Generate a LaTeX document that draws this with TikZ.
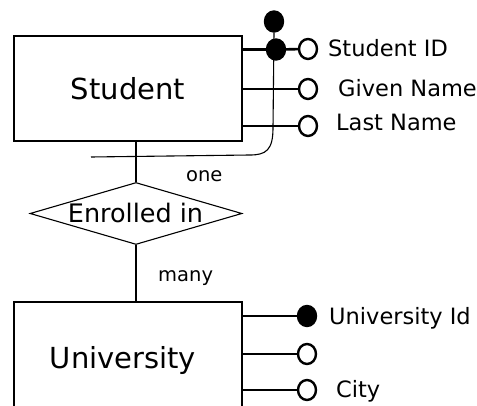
\documentclass[tikz,border=0pt]{standalone}
\usepackage{fontspec}
\setmainfont{DejaVu Sans}
\usetikzlibrary{shapes.geometric}
\begin{document}
\begin{tikzpicture}[x=1pt,y=-1pt,
  entity/.style={draw,line width=1.4pt,minimum width=228pt,inner sep=0pt},
  rel/.style={draw,diamond,aspect=3.4,line width=1.1pt,inner sep=0pt,minimum width=212pt,minimum height=62pt},
  link/.style={line width=2.6pt},
  thin/.style={line width=1.1pt},
  attr/.style={draw,ellipse,line width=2.4pt,minimum width=18pt,minimum height=20pt,inner sep=0pt},
  keyattr/.style={attr,fill=black},
  lbl/.style={inner sep=0pt,anchor=base west,font=\fontsize{22.5}{22.5}\selectfont},
  card/.style={inner sep=0pt,anchor=base west,font=\fontsize{19.5}{19.5}\selectfont}]
\useasboundingbox (0,0) rectangle (477,406);
\clip (0,0) rectangle (477,406);

% entities
\node[entity,minimum height=105pt] (student) at (128,88.5) {};
\node[inner sep=0pt,anchor=base,font=\fontsize{29}{29}\selectfont] (studentlbl) at (128,100) {Student};
\node[entity,minimum height=120pt] (univ) at (128,362) {};
\node[inner sep=0pt,anchor=base,font=\fontsize{29}{29}\selectfont] (univlbl) at (123,368) {University};

% relationship
\node[rel] (enr) at (136,213.5) {};
\node[inner sep=0pt,anchor=base,font=\fontsize{25.5}{25.5}\selectfont] (enrlbl) at (135.5,223) {Enrolled in};

\draw[link] (student.south -| enr.north) -- (enr.north);
\draw[link] (enr.south) -- (univ.north -| enr.south);
\node[card] (one) at (186,182) {one};
\node[card] (many) at (158,282) {many};

% student attributes
\node[keyattr] (topkey) at (274,21.5) {};
\node[keyattr] (sidkey) at (276,49.5) {};
\node[attr] (sid) at (308,49) {};
\node[attr] (gname) at (308,89) {};
\node[attr] (lname) at (308,126) {};
\draw[link] (student.east |- sidkey) -- (sidkey);
\draw[link] (sidkey) -- (sid);
\draw[link] (student.east |- gname) -- (gname);
\draw[link] (student.east |- lname) -- (lname);
\node[lbl] (sidlbl) at (328,57) {Student ID};
\node[lbl] (gnamelbl) at (338,97) {Given Name};
\node[lbl] (lnamelbl) at (336,131) {Last Name};

% composite key line
\coordinate (keyend) at (91,157);
\draw[thin] (topkey.south) -- (273,128) .. controls (273,150) and (266,155) .. (250,155) -- (keyend);

% university attributes
\node[keyattr] (uid) at (307,316) {};
\node[attr] (uattr) at (307,354) {};
\node[attr] (city) at (307,390) {};
\draw[link] (univ.east |- uid) -- (uid);
\draw[link] (univ.east |- uattr) -- (uattr);
\draw[link] (univ.east |- city) -- (city);
\node[lbl] (uidlbl) at (329,324) {University Id};
\node[lbl] (citylbl) at (336,397) {City};
\end{tikzpicture}
\end{document}
